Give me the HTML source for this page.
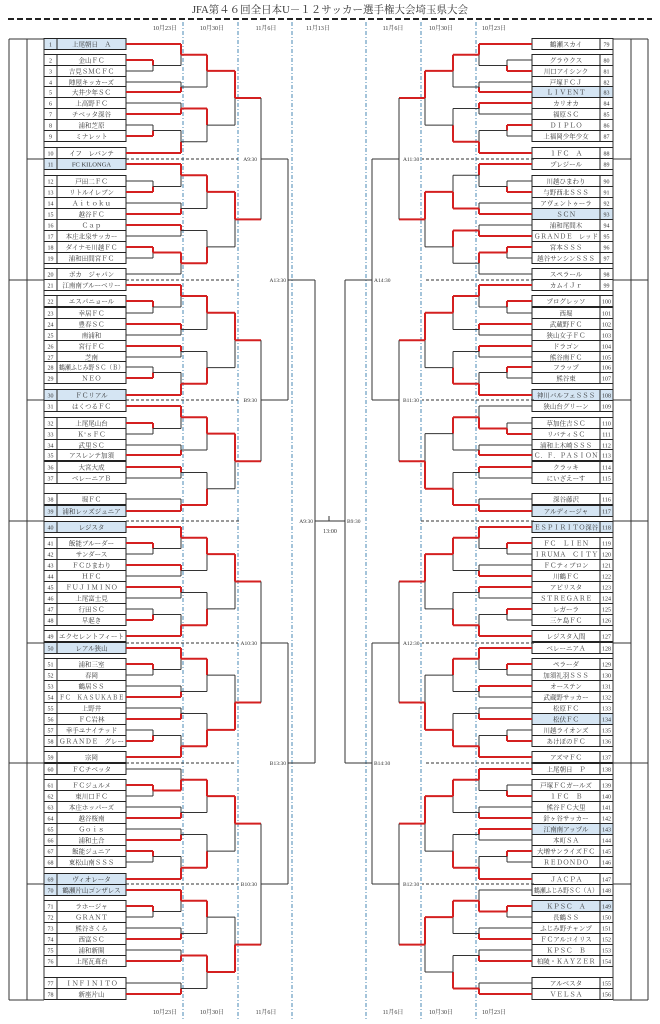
<!DOCTYPE html>
<html><head><meta charset="utf-8">
<style>
html,body{margin:0;padding:0;background:#fff;}
svg{display:block;}
text{font-family:"Liberation Serif","Noto Serif CJK SC",serif;fill:#333;}
</style></head>
<body>
<svg id="s" width="660" height="1024" viewBox="0 0 660 1024" xmlns="http://www.w3.org/2000/svg">
<text x="330" y="13" font-size="10.5" text-anchor="middle">JFA第４６回全日本U－１２サッカー選手権大会埼玉県大会</text>
<line x1="8" y1="19" x2="652" y2="19" stroke="#222" stroke-width="2" stroke-dasharray="6 3"/>
</svg>
<script>
const S=document.getElementById('s');const NS='http://www.w3.org/2000/svg';
function el(t,a,txt){const e=document.createElementNS(NS,t);for(const k in a)e.setAttribute(k,a[k]);if(txt!==undefined)e.textContent=txt;S.appendChild(e);return e;}
function L(x1,y1,x2,y2,red,extra){const a={x1,y1,x2,y2,stroke:red?'#d42020':'#333','stroke-width':red?2:1};if(extra)Object.assign(a,extra);el('line',a);}
const Y=[44,60,71,82,92,103,114,125,136,153,164,181,192,203,214,225,236,247,258,274,285,301,313,324,335,346,357,367,378,395,406,423,434,445,455,467,478,499,511,527,543,554,565,576,587,598,609,620,636,648,664,675,686,697,708,719,730,741,757,769,785,796,807,818,829,840,851,862,879,890,906,917,928,939,950,961,983,994];
const LN=["上尾朝日　Ａ","金山ＦＣ","吉見ＳＭＣＦＣ","陣屋キッカーズ","大井少年ＳＣ","上高野ＦＣ","チベッタ深谷","浦和芝原","ミナレット","イフ　レバンテ","FC KILONGA","戸田二ＦＣ","リトルイレブン","Ａｉｔｏｋｕ","越谷ＦＣ","Ｃａｐ","本庄北泉サッカー","ダイナモ川越ＦＣ","浦和田間宮ＦＣ","ボカ　ジャパン","江南南ブルーベリー","エスパニョール","幸居ＦＣ","豊春ＳＣ","南浦和","宮行ＦＣ","芝南","鶴瀬ふじみ野ＳＣ（Ｂ）","ＮＥＯ","ＦＣリアル","はくつるＦＣ","上尾尾山台","Ｋ’ｓＦＣ","武里ＳＣ","アスレンテ加須","大宮大成","ベレーニアＢ","堀ＦＣ","浦和レッズジュニア","レジスタ","飯能ブルーダー","サンダース","ＦＣひまわり","ＨＦＣ","ＦＵＪＩＭＩＮＯ","上尾富士見","行田ＳＣ","早起き","エクセレントフィート","レアル狭山","浦和三室","春岡","鶴居ＳＳ","ＦＣ　ＫＡＳＵＫＡＢＥ","上野井","ＦＣ岩林","幸手ユナイテッド","ＧＲＡＮＤＥ　グレー","宗岡","ＦＣチベッタ","ＦＣジュルメ","東川口ＦＣ","本庄ホッパーズ","越谷桜南","Ｇｏｉｓ","浦和土合","飯能ジュニア","東松山南ＳＳＳ","ヴィオレータ","鶴瀬片山ゴンザレス","ラホージャ","ＧＲＡＮＴ","熊谷さくら","西富ＳＣ","浦和新開","上尾瓦葺台","ＩＮＦＩＮＩＴＯ","新座片山"];
const RN=["鶴瀬スカイ","グラウクス","川口アイシンク","戸塚ＦＣＪ","ＬＩＶＥＮＴ","カリオカ","福原ＳＣ","ＤＩＰＬＯ","上福岡少年少女","１ＦＣ　Ａ","プレジール","川越ひまわり","与野西北ＳＳＳ","アヴェントゥーラ","ＳＣＮ","浦和尾間木","ＧＲＡＮＤＥ　レッド","宮本ＳＳＳ","越谷サンシンＳＳＳ","スペラール","カムイＪｒ","プログレッソ","西堀","武蔵野ＦＣ","狭山女子ＦＣ","ドラゴン","熊谷南ＦＣ","フラップ","熊谷東","神川バルフェＳＳＳ","狭山台グリーン","草加住吉ＳＣ","リバティＳＣ","浦和上木崎ＳＳＳ","Ｃ．Ｆ．ＰＡＳＩＯＮ","クラッキ","にいざえーす","深谷藤沢","アルディージャ","ＥＳＰＩＲＩＴＯ深谷","ＦＣ　ＬＩＥＮ","ＩＲＵＭＡ　ＣＩＴＹ","ＦＣティブロン","川鶴ＦＣ","アピリスタ","ＳＴＲＥＧＡＲＥ","レガーラ","三ケ島ＦＣ","レジスタ入間","ベレーニアＡ","ペラーダ","加須礼羽ＳＳＳ","オーステン","武蔵野サッカー","松原ＦＣ","松伏ＦＣ","川越ライオンズ","あけぼのＦＣ","アズマＦＣ","上尾朝日　Ｐ","戸塚ＦＣガールズ","１ＦＣ　Ｂ","熊谷ＦＣ大里","針ヶ谷サッカー","江南南アップル","本町ＳＡ","大増サンライズＦＣ","ＲＥＤＯＮＤＯ","ＪＡＣＰＡ","鶴瀬ふじみ野ＳＣ（Ａ）","ＫＰＳＣ　Ａ","長鶴ＳＳ","ふじみ野チャンプ","ＦＣアルコイリス","ＫＰＳＣ　Ｂ","柏陵・ＫＡＹＺＥＲ","アルベスタ","ＶＥＬＳＡ"];
const LH=[1,11,30,39,40,50,69,70],RH=[83,93,108,117,118,134,143,149];
// blue dashed verticals
[183,238,292,366,421,476].forEach(x=>L(x,22,x,1020,false,{stroke:'#4a8ab5','stroke-dasharray':'4 2 1 2'}));
// dates
[[165,'10月23日'],[212,'10月30日'],[266,'11月6日'],[318,'11月13日'],[393,'11月6日'],[441,'10月30日'],[494,'10月23日']].forEach(d=>el('text',{x:d[0],y:30,'font-size':6,'text-anchor':'middle'},d[1]));
[[165,'10月23日'],[212,'10月30日'],[266,'11月6日'],[393,'11月6日'],[441,'10月30日'],[494,'10月23日']].forEach(d=>el('text',{x:d[0],y:1014,'font-size':6,'text-anchor':'middle'},d[1]));
function nameW(s){let w=0;for(const c of s)w+=c.charCodeAt(0)>255?6.6:3.8;return w;}
// team rows
function rows(side){
  const names=side?RN:LN, hi=side?RH:LH, off=side?79:1;
  const nx=side?600:44, nw=13, mx=side?532:57, mw=side?68:69;
  for(let i=0;i<78;i++){
    const y=Y[i], num=i+off, h=hi.includes(num);
    el('rect',{x:nx,y:y-5.5,width:nw,height:11,fill:h?'#d5e5f3':'#fff',stroke:'#222','stroke-width':1});
    el('rect',{x:mx,y:y-5.5,width:mw,height:11,fill:h?'#d5e5f3':'#fff',stroke:'#222','stroke-width':1});
    el('text',{x:nx+nw/2,y:y+2.5,'font-size':6,'text-anchor':'middle'},String(num));
    const nm=names[i],a={x:mx+mw/2,y:y+2.5,'font-size':6.5,'text-anchor':'middle'};
    if(nameW(nm)>mw-4){a.textLength=mw-4;a.lengthAdjust='spacingAndGlyphs';}
    el('text',a,nm);
  }
}
rows(0);rows(1);
// frames
function frames(side){
  const m=x=>side?660-x:x;
  const xa=side?648:9,xb=side?631:27,xc=side?613:44;
  L(xa,39,xa,1000);L(xb,39,xb,1000);L(xc,39,xc,1000);
  L(xa,39,xc,39);L(xa,1000,xc,1000);
  [280,521,763].forEach(y=>L(xa,y,xc,y));
  [159,400,643,884].forEach(y=>L(xb,y,xc,y));
}
frames(0);frames(1);
// brackets
function P10(a,w){return [[[a,[a+1,a+2,w[0]],w[1]],[a+3,a+4,w[2]],w[3]],[[a+5,a+6,w[4]],[[a+7,a+8,w[5]],a+9,w[6]],w[7]],w[8]];}
function P9(a,w){return [[[a,[a+1,a+2,w[0]],w[1]],[a+3,a+4,w[2]],w[3]],[[a+5,a+6,w[4]],[a+7,a+8,w[5]],w[6]],w[7]];}
const LB=[P10(0,[0,0,1,0,1,1,1,0,0]),P10(10,[1,0,1,0,0,0,0,1,0]),P10(20,[0,0,0,0,0,1,1,1,0]),P9(30,[0,0,1,0,0,1,1,0]),
P10(39,[0,0,0,0,0,1,1,1,0]),P10(49,[0,0,1,0,1,1,1,1,1]),P10(59,[0,1,1,0,1,0,1,1,0]),P9(69,[0,0,1,0,1,1,0,1])];
const RB=[P10(0,[1,0,1,0,0,0,1,1,0]),P10(10,[1,0,1,1,1,0,0,0,0]),P10(20,[0,0,0,0,0,0,1,1,0]),P9(30,[1,1,1,0,0,1,1,1]),
P10(39,[0,0,1,0,0,0,1,1,0]),P10(49,[0,0,0,0,1,1,1,1,1]),P10(59,[1,0,1,0,0,0,1,1,0]),P9(69,[0,1,1,0,1,1,1,0])];
const XD=[235,207,181,153];
function draw(n,d,side){
  const m=x=>side?660-x:x;
  if(typeof n==='number')return {y:Y[n],x:side?532:126};
  const x=m(XD[d]);const c=[draw(n[0],d+1,side),draw(n[1],d+1,side)];
  const y=(c[0].y+c[1].y)/2;
  for(let k=0;k<2;k++){const r=n[2]===k;L(c[k].x,c[k].y,x,c[k].y,r);L(x,c[k].y,x,y,r);}
  return {y,x};
}
function side(s,labels){
  const m=x=>s?660-x:x;const B=s?RB:LB;
  const roots=B.map(b=>{const r=draw(b,0,s);L(r.x,r.y,m(261),r.y,true);return r.y;});
  const p=[];
  for(let i=0;i<4;i++){
    const a=roots[2*i],b=roots[2*i+1];L(m(261),a,m(261),b);
    const y=[159,400,643,884][i];L(m(261),y,m(288),y);p.push(y);
    L(s?534:126,y,m(238),y,false,{'stroke-dasharray':'3 2'});
    el('text',{x:s?403:257,y:y+2,'font-size':5.5,'text-anchor':s?'start':'end'},labels[i]);
  }
  const q=[];
  for(let i=0;i<2;i++){
    L(m(288),p[2*i],m(288),p[2*i+1]);const y=[280,763][i];L(m(288),y,m(315),y);q.push(y);
    L(s?534:126,y,m(236),y,false,{'stroke-dasharray':'3 2'});
    el('text',{x:s?374:286,y:y+2,'font-size':5.5,'text-anchor':s?'start':'end'},labels[4+i]);
  }
  L(m(315),280,m(315),763);
  L(s?534:126,521,m(240),521,false,{'stroke-dasharray':'3 2'});
}
side(0,['A9:30','B9:30','A10:30','B10:30','A13:30','B13:30']);
side(1,['A11:30','B11:30','A12:30','B12:30','A14:30','B14:30']);
L(315,521,345,521);L(329,516,329,521);
el('text',{x:313,y:523,'font-size':5.5,'text-anchor':'end'},'A9:30');
el('text',{x:347,y:523,'font-size':5.5},'B9:30');
el('text',{x:330,y:533,'font-size':6,'text-anchor':'middle'},'13:00');
</script>
</body></html>
